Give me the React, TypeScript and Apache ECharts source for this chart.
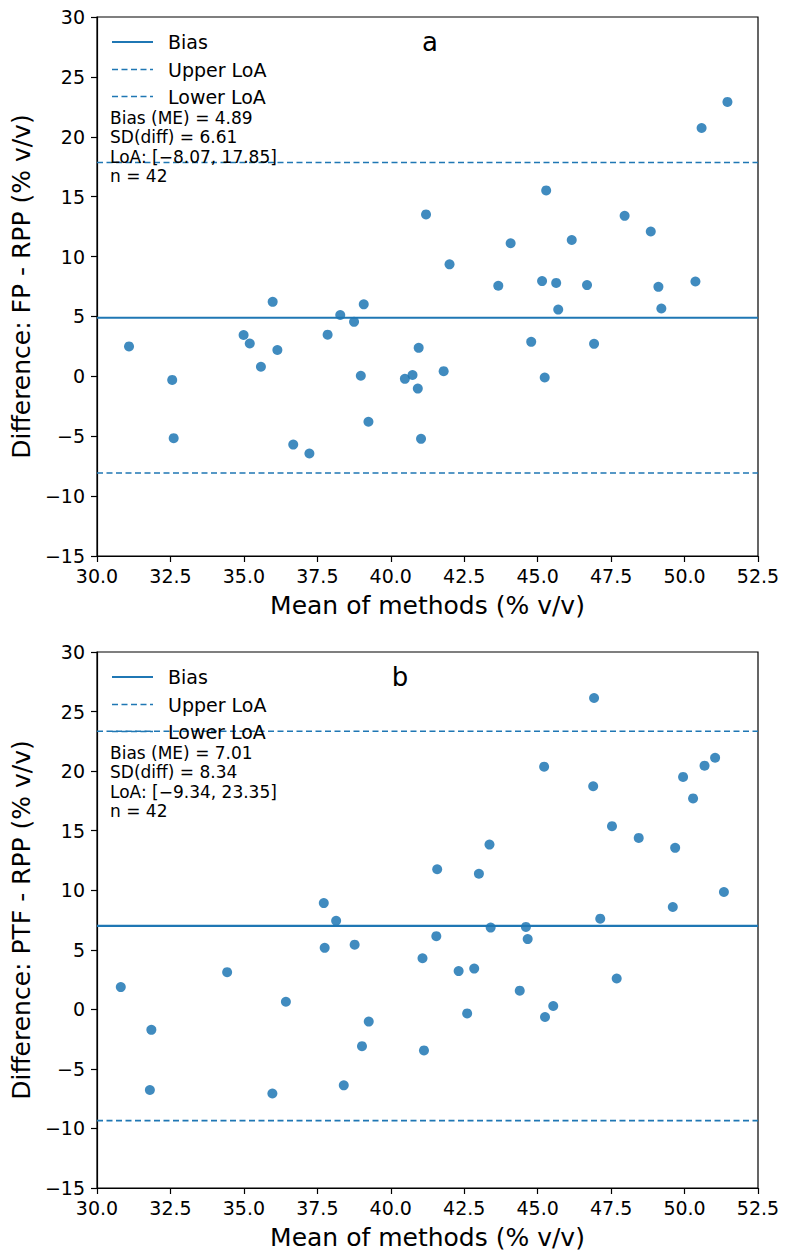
import { useEffect, useRef } from "react";
import * as echarts from "echarts";

// panel a: FP vs RPP
const meanA = [31.09, 32.56, 32.61, 34.99, 35.2, 35.58, 35.98, 36.14, 36.68, 37.23, 37.85, 38.28, 38.75, 38.98, 39.08, 39.24, 40.48, 40.74, 40.92, 40.95, 41.03, 41.2, 41.8, 42.0, 43.66, 44.08, 44.78, 45.15, 45.24, 45.29, 45.63, 45.7, 46.16, 46.68, 46.92, 47.96, 48.85, 49.11, 49.21, 50.37, 50.58, 51.46];
const diffA = [2.5, -0.3, -5.16, 3.45, 2.74, 0.8, 6.22, 2.2, -5.7, -6.44, 3.48, 5.12, 4.55, 0.05, 6.01, -3.79, -0.21, 0.11, -1.02, 2.38, -5.22, 13.52, 0.43, 9.35, 7.56, 11.11, 2.88, 7.95, -0.1, 15.52, 7.8, 5.57, 11.38, 7.62, 2.71, 13.4, 12.09, 7.47, 5.66, 7.92, 20.73, 22.91];
const statsA = { bias: 4.89, sd: 6.61, lower: -8.07, upper: 17.85, n: 42 };

// panel b: PTF vs RPP
const meanB = [30.81, 31.8, 31.85, 34.43, 35.97, 36.43, 37.72, 37.75, 38.14, 38.4, 38.77, 39.02, 39.25, 41.08, 41.13, 41.55, 41.58, 42.31, 42.6, 42.84, 43.0, 43.36, 43.4, 44.39, 44.6, 44.66, 45.22, 45.25, 45.53, 46.89, 46.92, 47.13, 47.53, 47.69, 48.44, 49.6, 49.68, 49.95, 50.29, 50.68, 51.04, 51.34];
const diffB = [1.87, -6.77, -1.72, 3.12, -7.07, 0.64, 8.92, 5.16, 7.43, -6.38, 5.43, -3.09, -1.03, 4.29, -3.45, 6.14, 11.76, 3.21, -0.34, 3.42, 11.38, 13.83, 6.86, 1.57, 6.92, 5.9, 20.37, -0.64, 0.28, 18.73, 26.14, 7.61, 15.38, 2.59, 14.39, 8.59, 13.56, 19.51, 17.71, 20.46, 21.12, 9.85];
const statsB = { bias: 7.01, sd: 8.34, lower: -9.34, upper: 23.35, n: 42 };

const xMin = 30;
const xMax = 52.5;
const yMin = -15;
const yMax = 30;
const yTitles = ["Difference: FP - RPP (% v/v)", "Difference: PTF - RPP (% v/v)"];
const xTitle = "Mean of methods (% v/v)";
const panelLabels = ["a", "b"];
const legendNames = ["Bias", "Upper LoA", "Lower LoA"];

const BLUE = "#1f77b4";
const FONT = "DejaVu Sans";
const grids = [
  { left: 97, top: 17, width: 661, height: 539 },
  { left: 97, top: 652, width: 661, height: 536 },
];
const labelX = [430, 400];

const minus = (v: number) => (v < 0 ? "\u2212" + Math.abs(v) : String(v));

const App = () => {
  const ref = useRef<HTMLDivElement>(null);

  useEffect(() => {
    document.body.style.margin = "0";
    if (!ref.current) return;
    const chart = echarts.init(ref.current, null, { renderer: "svg" });
    const panels = [
      { mean: meanA, diff: diffA, stats: statsA },
      { mean: meanB, diff: diffB, stats: statsB },
    ];

    const series: any[] = [];
    const graphic: any[] = [];

    panels.forEach((p, i) => {
      const hline = (name: string, v: number, dashed: boolean) => ({
        type: "line",
        name,
        xAxisIndex: i,
        yAxisIndex: i,
        data: [
          [xMin, v],
          [xMax, v],
        ],
        symbol: "none",
        silent: true,
        lineStyle: dashed
          ? { color: BLUE, width: 1.6, type: [6, 3.5] }
          : { color: BLUE, width: 2.2 },
        z: 3,
      });
      series.push(hline("Bias", p.stats.bias, false));
      series.push(hline("Upper LoA", p.stats.upper, true));
      series.push(hline("Lower LoA", p.stats.lower, true));
      series.push({
        type: "scatter",
        xAxisIndex: i,
        yAxisIndex: i,
        data: p.mean.map((m, k) => [m, p.diff[k]]),
        symbolSize: 10,
        itemStyle: { color: BLUE, opacity: 0.85 },
        z: 4,
      });

      const g = grids[i];
      // legend (no frame, as in the reference)
      const rows = [25, 52.5, 79.5];
      legendNames.forEach((name, k) => {
        const y = g.top + rows[k];
        graphic.push({
          type: "line",
          shape: { x1: 112, y1: y, x2: 153, y2: y },
          style:
            k === 0
              ? { stroke: BLUE, lineWidth: 2.2 }
              : { stroke: BLUE, lineWidth: 1.6, lineDash: [6, 3.5] },
          z: 10,
        });
        graphic.push({
          type: "text",
          x: 168,
          y,
          style: {
            text: name,
            font: `19px '${FONT}'`,
            lineHeight: 15,
            fill: "#000",
            textVerticalAlign: "middle",
          },
          z: 10,
        });
      });
      // stats box
      const s = p.stats;
      graphic.push({
        type: "text",
        x: 110,
        y: g.top + 91,
        style: {
          text: [
            `Bias (ME) = ${s.bias.toFixed(2)}`,
            `SD(diff) = ${s.sd.toFixed(2)}`,
            `LoA: [\u2212${Math.abs(s.lower).toFixed(2)}, ${s.upper.toFixed(2)}]`,
            `n = ${s.n}`,
          ].join("\n"),
          font: `17px '${FONT}'`,
          lineHeight: 19.5,
          fill: "#000",
        },
        z: 10,
      });
      // panel letter
      graphic.push({
        type: "text",
        x: labelX[i],
        y: g.top + 25,
        style: {
          text: panelLabels[i],
          font: `26px '${FONT}'`,
          fill: "#000",
          textAlign: "center",
          textVerticalAlign: "middle",
        },
        z: 10,
      });
    });

    const axisText = { color: "#000", fontFamily: FONT, fontSize: 19 };
    const nameText = { color: "#000", fontFamily: FONT, fontSize: 25 };

    chart.setOption({
      animation: false,
      backgroundColor: "#fff",
      grid: grids.map((g) => ({
        ...g,
        show: true,
        borderColor: "#000",
        borderWidth: 1.2,
        backgroundColor: "transparent",
      })),
      xAxis: grids.map((_, i) => ({
        type: "value",
        gridIndex: i,
        min: xMin,
        max: xMax,
        interval: 2.5,
        name: xTitle,
        nameLocation: "middle",
        nameGap: 37,
        nameTextStyle: nameText,
        axisLine: { show: true, onZero: false, lineStyle: { color: "#000", width: 1.2 } },
        axisTick: { show: true, length: 6, lineStyle: { color: "#000", width: 1.2 } },
        axisLabel: { ...axisText, margin: 10, formatter: (v: number) => v.toFixed(1) },
        splitLine: { show: false },
      })),
      yAxis: grids.map((_, i) => ({
        type: "value",
        gridIndex: i,
        min: yMin,
        max: yMax,
        interval: 5,
        name: yTitles[i],
        nameLocation: "middle",
        nameGap: 63,
        nameTextStyle: nameText,
        axisLine: { show: true, onZero: false, lineStyle: { color: "#000", width: 1.2 } },
        axisTick: { show: true, length: 6, lineStyle: { color: "#000", width: 1.2 } },
        axisLabel: { ...axisText, margin: 12, formatter: minus },
        splitLine: { show: false },
      })),
      series,
      graphic,
    });

    return () => chart.dispose();
  }, []);

  return <div ref={ref} style={{ width: 787, height: 1259 }} />;
};

export default App;
